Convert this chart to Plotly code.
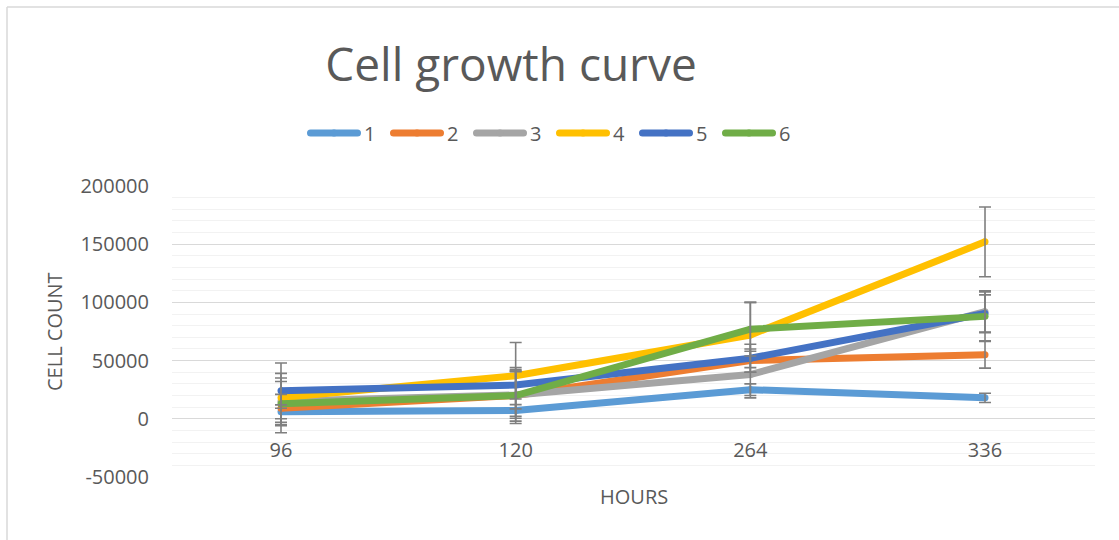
import plotly.graph_objects as go

hours = ["96", "120", "264", "336"]
series_names = ["1", "2", "3", "4", "5", "6"]
colors = ["#5B9BD5", "#ED7D31", "#A5A5A5", "#FFC000", "#4472C4", "#70AD47"]

s1 = [6000, 7200, 25000, 18000]
s2 = [9000, 20000, 50000, 55000]
s3 = [15000, 20500, 38000, 92000]
s4 = [18000, 37000, 72000, 152000]
s5 = [24000, 29000, 52000, 90500]
s6 = [13000, 20000, 77000, 88000]

e1 = [6000, 5000, 5000, 4000]
e2 = [12000, 24000, 10000, 11500]
e3 = [20000, 20000, 20000, 18000]
e4 = [30000, 28500, 28000, 30000]
e5 = [15000, 12000, 12000, 16000]
e6 = [19000, 22000, 23000, 21000]

values = [s1, s2, s3, s4, s5, s6]
errors = [e1, e2, e3, e4, e5, e6]

y_ticks = [-50000, 0, 50000, 100000, 150000, 200000]

FONT = "Open Sans"
TXT = "#595959"

# plot area in pixels
W, H = 1119, 540
L, R, T, B = 172, 1095, 186, 477
pw, ph = R - L, B - T

def px(x):
    return (x - L) / pw

def py(y):
    return (B - y) / ph

fig = go.Figure()

for name, col, vals in zip(series_names, colors, values):
    fig.add_trace(go.Scatter(
        x=hours, y=vals, name=name, mode="lines+markers",
        line=dict(color=col, width=7),
        marker=dict(color=col, size=7),
        hoverinfo="skip",
    ))

# error bars on top of all lines
for name, vals, err in zip(series_names, values, errors):
    fig.add_trace(go.Scatter(
        x=hours, y=vals, mode="markers", showlegend=False,
        marker=dict(size=1, color="rgba(0,0,0,0)"),
        error_y=dict(type="data", array=err, visible=True,
                     color="#7F7F7F", thickness=1.6, width=6),
        hoverinfo="skip",
    ))

fig.update_layout(
    width=W, height=H,
    margin=dict(l=L, r=W - R, t=T, b=H - B, pad=0),
    paper_bgcolor="white", plot_bgcolor="white",
    font=dict(family=FONT, color=TXT, size=20),
    title=dict(text="Cell growth curve", x=511 / W, xref="container", xanchor="center",
               y=1 - 65 / H, yref="container", yanchor="middle",
               font=dict(family=FONT, size=46, color=TXT)),
    showlegend=True,
    legend=dict(orientation="h", x=px(304), xanchor="left", y=py(133), yanchor="middle",
                font=dict(family=FONT, size=20, color=TXT),
                entrywidth=18, entrywidthmode="pixels", itemwidth=50,
                bgcolor="rgba(0,0,0,0)", traceorder="normal"),
    xaxis=dict(type="category", categoryorder="array", categoryarray=hours,
               range=[-0.4645, 3.4687], anchor="free", position=py(436),
               showgrid=False, showline=False, zeroline=False, ticks="",
               tickfont=dict(family=FONT, size=20, color=TXT), fixedrange=True),
    yaxis=dict(range=[-50000, 200000], tickvals=y_ticks, ticktext=[str(v) for v in y_ticks],
               showgrid=True, gridcolor="#D9D9D9", gridwidth=1.3,
               minor=dict(dtick=10000, tick0=0, showgrid=True, gridcolor="#F2F2F2", gridwidth=1.3),
               zeroline=False, showline=False, ticks="", ticklabelstandoff=22,
               tickfont=dict(family=FONT, size=20, color=TXT), fixedrange=True),
    annotations=[
        dict(text="HOURS", xref="paper", yref="paper", x=0.5, y=py(496),
             xanchor="center", yanchor="middle", showarrow=False,
             font=dict(family=FONT, size=20, color=TXT)),
        dict(text="CELL COUNT", xref="paper", yref="paper", x=px(54), y=py(332),
             xanchor="center", yanchor="middle", showarrow=False, textangle=-90,
             font=dict(family=FONT, size=20, color=TXT)),
    ],
    shapes=[
        dict(type="line", xref="paper", yref="paper", x0=px(7), x1=px(W + 5), y0=py(7), y1=py(7),
             line=dict(color="#D9D9D9", width=1.5)),
        dict(type="line", xref="paper", yref="paper", x0=px(7), x1=px(7), y0=py(7), y1=py(H + 5),
             line=dict(color="#D9D9D9", width=1.5)),
    ],
)

post_js = """
document.body.style.margin = '0';
var gd = document.getElementById('{plot_id}');
function fixLegend() {
  gd.querySelectorAll('.legendlines path').forEach(function (p) {
    p.setAttribute('d', 'M6.5,0h47');
    p.style.strokeWidth = '7px';
    p.style.strokeLinecap = 'round';
  });
}
fixLegend();
setTimeout(fixLegend, 50);
setTimeout(fixLegend, 300);
gd.on('plotly_afterplot', fixLegend);
"""

fig.write_html("out.html", config={"displayModeBar": False}, post_script=post_js)
